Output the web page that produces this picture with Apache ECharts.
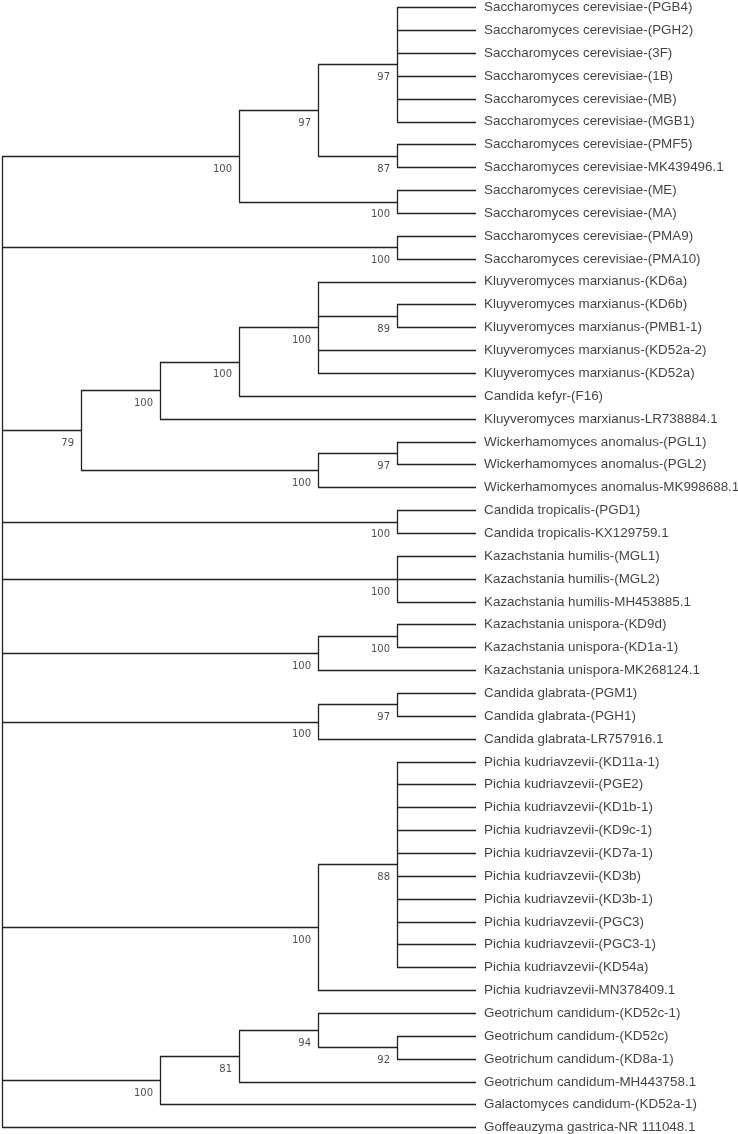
<!DOCTYPE html>
<html>
<head>
<meta charset="utf-8">
<script src="https://cdn.jsdelivr.net/npm/echarts@6/dist/echarts.min.js"></script>
<style>
  html, body { margin: 0; padding: 0; background: #fff; }
  #chart { width: 738px; height: 1134px; }
</style>
</head>
<body>
<div id="chart"></div>
<script>
// leaf names, top to bottom
const leafNames = [
  'Saccharomyces cerevisiae-(PGB4)',
  'Saccharomyces cerevisiae-(PGH2)',
  'Saccharomyces cerevisiae-(3F)',
  'Saccharomyces cerevisiae-(1B)',
  'Saccharomyces cerevisiae-(MB)',
  'Saccharomyces cerevisiae-(MGB1)',
  'Saccharomyces cerevisiae-(PMF5)',
  'Saccharomyces cerevisiae-MK439496.1',
  'Saccharomyces cerevisiae-(ME)',
  'Saccharomyces cerevisiae-(MA)',
  'Saccharomyces cerevisiae-(PMA9)',
  'Saccharomyces cerevisiae-(PMA10)',
  'Kluyveromyces marxianus-(KD6a)',
  'Kluyveromyces marxianus-(KD6b)',
  'Kluyveromyces marxianus-(PMB1-1)',
  'Kluyveromyces marxianus-(KD52a-2)',
  'Kluyveromyces marxianus-(KD52a)',
  'Candida kefyr-(F16)',
  'Kluyveromyces marxianus-LR738884.1',
  'Wickerhamomyces anomalus-(PGL1)',
  'Wickerhamomyces anomalus-(PGL2)',
  'Wickerhamomyces anomalus-MK998688.1',
  'Candida tropicalis-(PGD1)',
  'Candida tropicalis-KX129759.1',
  'Kazachstania humilis-(MGL1)',
  'Kazachstania humilis-(MGL2)',
  'Kazachstania humilis-MH453885.1',
  'Kazachstania unispora-(KD9d)',
  'Kazachstania unispora-(KD1a-1)',
  'Kazachstania unispora-MK268124.1',
  'Candida glabrata-(PGM1)',
  'Candida glabrata-(PGH1)',
  'Candida glabrata-LR757916.1',
  'Pichia kudriavzevii-(KD11a-1)',
  'Pichia kudriavzevii-(PGE2)',
  'Pichia kudriavzevii-(KD1b-1)',
  'Pichia kudriavzevii-(KD9c-1)',
  'Pichia kudriavzevii-(KD7a-1)',
  'Pichia kudriavzevii-(KD3b)',
  'Pichia kudriavzevii-(KD3b-1)',
  'Pichia kudriavzevii-(PGC3)',
  'Pichia kudriavzevii-(PGC3-1)',
  'Pichia kudriavzevii-(KD54a)',
  'Pichia kudriavzevii-MN378409.1',
  'Geotrichum candidum-(KD52c-1)',
  'Geotrichum candidum-(KD52c)',
  'Geotrichum candidum-(KD8a-1)',
  'Geotrichum candidum-MH443758.1',
  'Galactomyces candidum-(KD52a-1)',
  'Goffeauzyma gastrica-NR 111048.1'
]

// clades: [bootstrap, ...children], a number is a leaf index
const tree = [null,
  [100, [97, [97, 0, 1, 2, 3, 4, 5], [87, 6, 7]], [100, 8, 9]],
  [100, 10, 11],
  [79, [100, [100, [100, 12, [89, 13, 14], 15, 16], 17], 18], [100, [97, 19, 20], 21]],
  [100, 22, 23],
  [100, 24, 25, 26],
  [100, [100, 27, 28], 29],
  [100, [97, 30, 31], 32],
  [100, [88, 33, 34, 35, 36, 37, 38, 39, 40, 41, 42], 43],
  [100, [81, [94, 44, [92, 45, 46]], 47], 48],
  49
]

// topology-only layout: leaves aligned, node depth by height above leaves
const build = (node) => {
  if (typeof node === 'number') return { leaf: node, y: node, h: 0 }
  const [support, ...kids] = node
  const children = kids.map(build)
  return {
    support,
    children,
    h: 1 + Math.max(...children.map(c => c.h)),
    y: (children[0].y + children[children.length - 1].y) / 2
  }
}
const root = build(tree)

const segments = []
const supports = []
const leaves = []
const walk = (n) => {
  n.x = root.h - n.h
  if (!n.children) {
    leaves.push({ value: [n.x, n.y], name: leafNames[n.leaf] })
    return
  }
  n.children.forEach(walk)
  const last = n.children[n.children.length - 1]
  segments.push({ coords: [[n.x, n.children[0].y], [n.x, last.y]] })
  n.children.forEach(c => segments.push({ coords: [[n.x, c.y], [c.x, c.y]] }))
  if (n.support != null) supports.push({ value: [n.x, n.y], name: String(n.support) })
}
walk(root)

const myChart = echarts.init(document.getElementById('chart'))
const option = {
  animation: false,
  grid: { left: 2, right: 262, top: 7.5, bottom: 6.4 },
  xAxis: { type: 'value', min: 0, max: root.h, show: false },
  yAxis: { type: 'value', min: 0, max: leafNames.length - 1, inverse: true, show: false },
  series: [
    {
      type: 'lines',
      coordinateSystem: 'cartesian2d',
      silent: true,
      clip: false,
      lineStyle: { color: '#222', width: 1.3, opacity: 1, curveness: 0 },
      data: segments
    },
    {
      type: 'scatter',
      symbolSize: 0,
      silent: true,
      data: leaves,
      label: {
        show: true,
        position: 'right',
        distance: 8,
        formatter: (p) => p.name,
        fontFamily: 'Liberation Sans, Arial, sans-serif',
        fontSize: 13.4,
        color: '#111'
      }
    },
    {
      type: 'scatter',
      symbolSize: 0,
      silent: true,
      data: supports,
      label: {
        show: true,
        position: [-7, 13],
        align: 'right',
        verticalAlign: 'middle',
        formatter: (p) => p.name,
        fontFamily: 'DejaVu Sans, sans-serif',
        fontSize: 10,
        color: '#222'
      }
    }
  ]
}
myChart.setOption(option)
window.addEventListener('resize', () => myChart.resize())
</script>
</body>
</html>
